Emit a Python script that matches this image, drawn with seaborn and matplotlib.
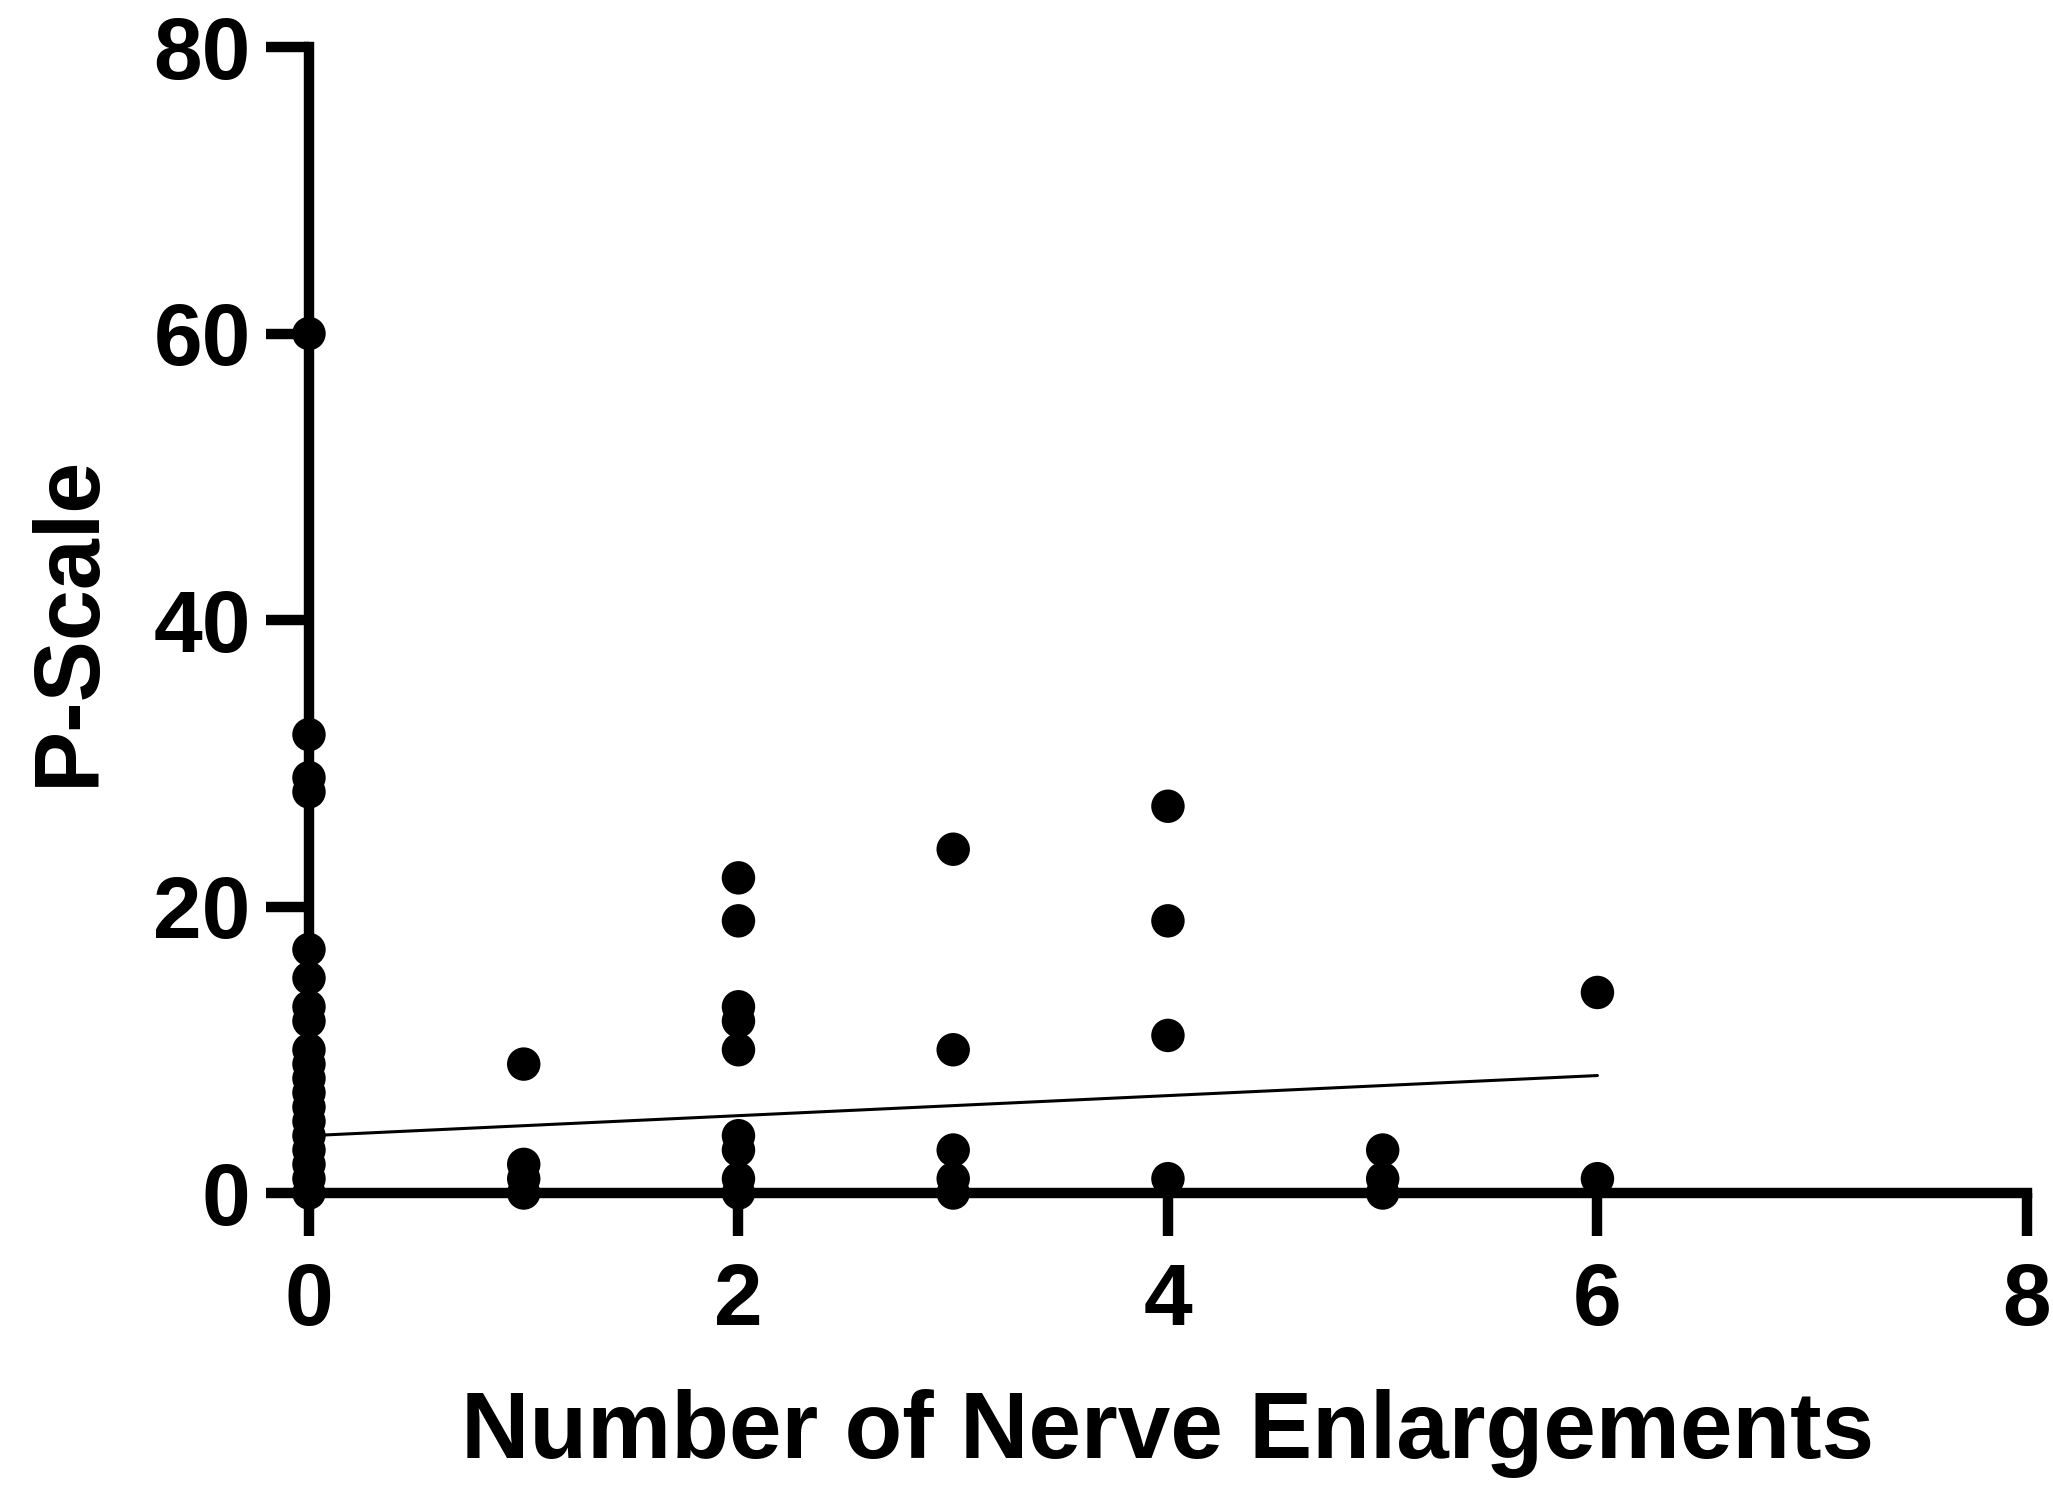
#!/usr/bin/env python3
# -*- coding: utf-8 -*-
"""
P-Scale vs number of nerve enlargements - scatter with linear fit
"""

import numpy as np
import pandas as pd
import matplotlib
matplotlib.use('Agg')
import matplotlib.pyplot as plt
import seaborn as sns

# ============================================================================
# DATOS
# ============================================================================

# P-Scale values for each number of nerve enlargements
p_scale_0 = [60, 32, 29, 28, 17, 15, 13, 12, 10, 9, 8, 7, 6, 5, 4, 3, 2, 1, 0]
p_scale_1 = [9, 2, 1, 0]
p_scale_2 = [22, 19, 13, 12, 10, 4, 3, 1, 0]
p_scale_3 = [24, 10, 3, 1, 0]
p_scale_4 = [27, 19, 11, 1]
p_scale_5 = [3, 1, 0]
p_scale_6 = [14, 1]

# linear fit as drawn in the figure
fit_intercept = 4.0
fit_slope = 0.70
fit_range = [0, 6]

x_ticks = [0, 2, 4, 6, 8]
y_ticks = [0, 20, 40, 60, 80]

groups = [p_scale_0, p_scale_1, p_scale_2, p_scale_3, p_scale_4, p_scale_5, p_scale_6]
df = pd.DataFrame({
    'enlargements': [n for n, vals in enumerate(groups) for _ in vals],
    'p_scale': [v for vals in groups for v in vals],
})

fit_x = np.array(fit_range, dtype=float)
fit_df = pd.DataFrame({'x': fit_x, 'y': fit_intercept + fit_slope * fit_x})

# ============================================================================
# GRÁFICO
# ============================================================================

sns.set_style('ticks')
plt.rcParams['font.family'] = ['Liberation Sans', 'DejaVu Sans']
plt.rcParams['font.weight'] = 'bold'
for key in ['text.color', 'axes.labelcolor', 'xtick.color', 'ytick.color', 'axes.edgecolor']:
    plt.rcParams[key] = 'black'

fig = plt.figure(figsize=(20.53, 14.98), dpi=100)
ax = fig.add_axes([0.1505, 0.2036, 0.8368, 0.765])

sns.lineplot(data=fit_df, x='x', y='y', color='black', linewidth=2.2, ax=ax, zorder=2)
sns.scatterplot(data=df, x='enlargements', y='p_scale', color='black', s=580,
                edgecolor='none', linewidth=0, clip_on=False, zorder=4, ax=ax)

ax.set_xlim(0, 8)
ax.set_ylim(0, 80)
ax.set_xticks(x_ticks)
ax.set_yticks(y_ticks)

for side in ['top', 'right']:
    ax.spines[side].set_visible(False)
for side in ['left', 'bottom']:
    ax.spines[side].set_linewidth(7.5)
    ax.spines[side].set_color('black')
    ax.spines[side].set_zorder(3)

ax.tick_params(axis='both', length=31, width=7.5, labelsize=63, color='black',
               labelcolor='black')
ax.tick_params(axis='x', pad=19)
ax.tick_params(axis='y', pad=11)
for lbl in ax.get_xticklabels() + ax.get_yticklabels():
    lbl.set_fontweight('bold')

ax.set_xlabel('Number of Nerve Enlargements', fontsize=68, fontweight='bold', color='black')
ax.set_ylabel('P-Scale', fontsize=66, fontweight='bold', color='black')
ax.xaxis.set_label_coords(0.5, -0.171)
ax.yaxis.set_label_coords(-0.114, 0.5)

fig.savefig('out.png', dpi=100, facecolor='white')
plt.close()

print("✅ out.png generado")
